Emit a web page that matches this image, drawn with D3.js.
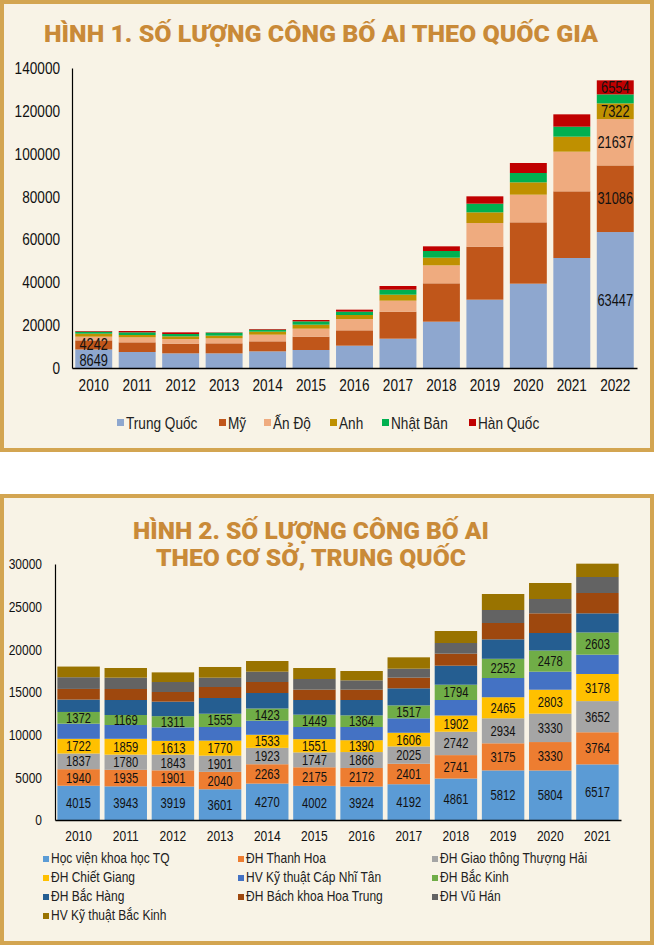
<!DOCTYPE html>
<html><head><meta charset="utf-8">
<script src="https://cdn.jsdelivr.net/npm/d3@7"></script>
<style>
body{margin:0;background:#fff}
text{font-family:"Liberation Sans",Arial,sans-serif}
</style></head>
<body><svg id="c" width="654" height="946"></svg>
<script>
/* figure 1 data */
var years1 = ["2010","2011","2012","2013","2014","2015","2016","2017","2018","2019","2020","2021","2022"]
var countries = ["Trung Quốc","Mỹ","Ấn Độ","Anh","Nhật Bản","Hàn Quốc"]
var china  = [8649,7466,6844,6844,7777,8400,10422,13688,21622,31888,39355,51333,63447]
var usa    = [4242,4511,4511,4667,4667,6222,7155,12600,17889,24734,28622,31111,31086]
var india  = [1731,2334,2178,2333,3111,3733,5289,5134,8400,11044,12911,18511,21637]
var uk     = [1400,1089,1244,1244,1400,1867,1867,2800,3577,4978,5756,7000,7322]
var japan  = [933,1244,1089,1400,933,1555,1555,2333,3112,4044,4356,4667,4200]
var korea  = [300,622,778,150,312,623,934,1711,2177,3423,4666,5755,6554]
var ticks1 = [0,20000,40000,60000,80000,100000,120000,140000]

/* figure 2 data */
var years2 = ["2010","2011","2012","2013","2014","2015","2016","2017","2018","2019","2020","2021"]
var insts = ["Học viện khoa học TQ","ĐH Thanh Hoa","ĐH Giao thông Thượng Hải","ĐH Chiết Giang","HV Kỹ thuật Cáp Nhĩ Tân","ĐH Bắc Kinh","ĐH Bắc Hàng","ĐH Bách khoa Hoa Trung","ĐH Vũ Hán","HV Kỹ thuật Bắc Kinh"]
var cas     = [4015,3943,3919,3601,4270,4002,3924,4192,4861,5812,5804,6517]
var tsinghua= [1940,1935,1901,2040,2263,2175,2172,2401,2741,3175,3330,3764]
var sjtu    = [1837,1780,1843,1901,1923,1747,1866,2025,2742,2934,3330,3652]
var zju     = [1722,1859,1613,1770,1533,1551,1390,1606,1902,2465,2803,3178]
var hit     = [1775,1616,1583,1586,1652,1423,1546,1690,1816,2254,2116,2264]
var pku     = [1372,1169,1311,1555,1423,1449,1364,1517,1794,2252,2478,2603]
var buaa    = [1450,1760,1700,1844,1819,1715,1800,2000,2230,2280,2053,2241]
var hust    = [1250,1290,1130,1290,1289,1211,1211,1250,1406,1914,2305,2383]
var whu     = [1370,1330,1170,1094,1211,1250,1094,1054,1250,1523,1679,1875]
var bit     = [1250,1130,1130,1250,1250,1289,1094,1328,1406,1875,1875,1562]
var ticks2 = [0,5000,10000,15000,20000,25000,30000]

var colors1 = ["#8ea7cf","#c0561a","#efab7f","#bf9000","#00b050","#c00000"]
var colors2 = ["#5b9bd5","#ed7d31","#a5a5a5","#ffc000","#4472c4","#70ad47","#255e91","#9e480e","#636363","#997300"]
var gold = "#c98a38"

var svg = d3.select("#c")

/* squeeze text to look like a narrow face */
function narrow(sel, f) {
  sel.each(function(){
    var w = this.getComputedTextLength()
    if (w > 0) d3.select(this).attr("textLength", w * (f || 0.8)).attr("lengthAdjust","spacingAndGlyphs")
  })
}

/* panels */
svg.append("rect").attr("x",2).attr("y",2).attr("width",650).attr("height",448)
  .attr("fill","#f8f3e6").attr("stroke","#d3a551").attr("stroke-width",4)
svg.append("rect").attr("x",2).attr("y",496).attr("width",650).attr("height",447)
  .attr("fill","#f8f3e6").attr("stroke","#d3a551").attr("stroke-width",4)

function stackChart(cfg) {
  var rows = cfg.years.map(function(y,i){
    var r = {year:y}
    cfg.keys.forEach(function(k,j){ r[k] = cfg.series[j][i] })
    return r
  })
  var stack = d3.stack().keys(cfg.keys)(rows)
  var x = d3.scaleBand().domain(cfg.years).range([cfg.x0,cfg.x1]).paddingInner(cfg.pad).paddingOuter(cfg.pad/2)
  var y = d3.scaleLinear().domain([0,cfg.max]).range([cfg.y0,cfg.y1])
  var g = svg.append("g")
  stack.forEach(function(s,j){
    g.selectAll(null).data(s).enter().append("rect")
      .attr("x",function(d){return x(d.data.year)})
      .attr("width",x.bandwidth())
      .attr("y",function(d){return y(d[1])})
      .attr("height",function(d){return y(d[0])-y(d[1])})
      .attr("fill",cfg.colors[j])
  })
  stack.forEach(function(s,j){
    var t = g.selectAll(null).data(s.filter(function(d,i){return cfg.showLabel(j,i)})).enter().append("text")
      .attr("x",function(d){return x(d.data.year)+x.bandwidth()/2})
      .attr("y",function(d){return (y(d[0])+y(d[1]))/2 + (cfg.labelShift ? cfg.labelShift(j,d.data.year) : 0)})
      .attr("dy","0.36em").attr("text-anchor","middle")
      .attr("font-size",cfg.labelSize).attr("fill","#111")
      .text(function(d){return d[1]-d[0]})
    narrow(t, 0.8)
  })
  var ay = svg.append("g").attr("transform","translate("+cfg.x0+",0)")
    .call(d3.axisLeft(y).tickValues(cfg.ticks).tickSize(0).tickPadding(cfg.tickPad).tickFormat(d3.format("d")))
  ay.select(".domain").attr("stroke","#000").attr("stroke-width",1.2)
  ay.selectAll("text").attr("font-size",cfg.tickSize).attr("fill","#111")
    .style("font-family",'"Liberation Sans",Arial')
  narrow(ay.selectAll("text"), 0.8)
  var ax = svg.append("g").attr("transform","translate(0,"+cfg.y0+")")
    .call(d3.axisBottom(x).tickSize(0).tickPadding(cfg.xPad))
  ax.select(".domain").attr("stroke","#000").attr("stroke-width",1.5)
  ax.selectAll("text").attr("font-size",cfg.tickSize).attr("fill","#111")
    .style("font-family",'"Liberation Sans",Arial')
  narrow(ax.selectAll("text"), 0.8)
}

/* figure 1 */
svg.append("text").attr("x",321).attr("y",42).attr("text-anchor","middle")
  .attr("font-size",24).attr("fill",gold)
  .attr("textLength",554).attr("lengthAdjust","spacingAndGlyphs")
  .style("font-family","Roboto,'DejaVu Sans'").style("font-weight",900)
  .text("HÌNH 1. SỐ LƯỢNG CÔNG BỐ AI THEO QUỐC GIA")
stackChart({years:years1, keys:countries, series:[china,usa,india,uk,japan,korea],
  colors:colors1, x0:72, x1:637, y0:368, y1:68, max:140000, pad:0.15,
  ticks:ticks1, tickSize:17, tickPad:12, xPad:11, labelSize:16,
  labelShift:function(j,yr){ return yr=="2010" ? (j==0 ? 2 : -1) : 0 },
  showLabel:function(j,i){ return (i==0 && j<2) || (i==12 && j!=4) }})
var lg1 = svg.append("g")
var lx1 = [117,219,264,330,382,469]
countries.forEach(function(c,i){
  lg1.append("rect").attr("x",lx1[i]).attr("y",419).attr("width",7).attr("height",7).attr("fill",colors1[i])
  narrow(lg1.append("text").attr("x",lx1[i]+9).attr("y",429).attr("font-size",17).attr("fill","#222").text(c), 0.8)
})

/* figure 2 */
svg.append("text").attr("x",311).attr("y",539).attr("text-anchor","middle")
  .attr("font-size",24).attr("fill",gold).attr("textLength",356).attr("lengthAdjust","spacingAndGlyphs")
  .style("font-family","Roboto,'DejaVu Sans'").style("font-weight",900)
  .text("HÌNH 2. SỐ LƯỢNG CÔNG BỐ AI")
svg.append("text").attr("x",311).attr("y",566).attr("text-anchor","middle")
  .attr("font-size",24).attr("fill",gold).attr("textLength",310).attr("lengthAdjust","spacingAndGlyphs")
  .style("font-family","Roboto,'DejaVu Sans'").style("font-weight",900)
  .text("THEO CƠ SỞ, TRUNG QUỐC")
stackChart({years:years2, keys:insts, series:[cas,tsinghua,sjtu,zju,hit,pku,buaa,hust,whu,bit],
  colors:colors2, x0:55, x1:621, y0:820, y1:564, max:30000, pad:0.1,
  ticks:ticks2, tickSize:15, tickPad:13, xPad:10, labelSize:14,
  showLabel:function(j,i){ return j<4 || j==5 }})
var lg2 = svg.append("g")
insts.forEach(function(c,i){
  var lx = [43,238,432][i%3], ly = 863 + Math.floor(i/3)*19
  lg2.append("rect").attr("x",lx).attr("y",ly-7).attr("width",6).attr("height",6).attr("fill",colors2[i])
  narrow(lg2.append("text").attr("x",lx+8).attr("y",ly).attr("font-size",15).attr("fill","#222").text(c), 0.8)
})
</script></body></html>
